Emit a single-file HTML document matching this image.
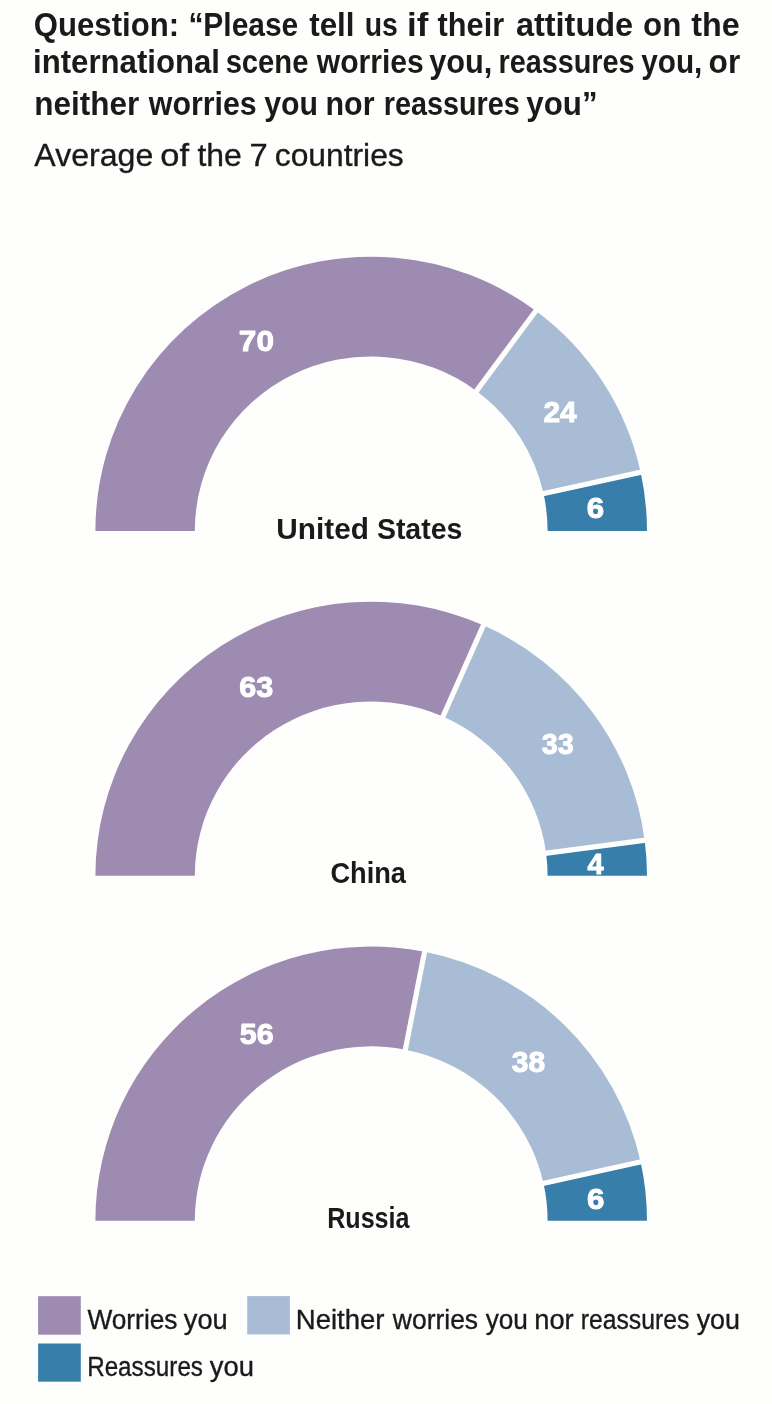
<!DOCTYPE html>
<html><head><meta charset="utf-8"><style>
html,body{margin:0;padding:0;}
body{width:772px;height:1404px;background:#fefefc;overflow:hidden;}
svg{display:block;font-family:"Liberation Sans",sans-serif;will-change:transform;}
</style></head><body>
<svg width="772" height="1404" viewBox="0 0 772 1404">
<path d="M95.40,530.90 A275.8,274.2 0 0 1 535.75,310.85 L476.45,390.94 A176.4,174.4 0 0 0 194.80,530.90 Z" fill="#9e8bb1"/>
<path d="M535.75,310.85 A275.8,274.2 0 0 1 640.62,472.25 L543.52,493.60 A176.4,174.4 0 0 0 476.45,390.94 Z" fill="#a8bcd6"/>
<path d="M640.62,472.25 A275.8,274.2 0 0 1 647.00,530.90 L547.60,530.90 A176.4,174.4 0 0 0 543.52,493.60 Z" fill="#377eab"/>
<line x1="474.66" y1="393.35" x2="537.54" y2="308.45" stroke="#fefefc" stroke-width="5.2"/>
<line x1="540.59" y1="494.24" x2="643.55" y2="471.61" stroke="#fefefc" stroke-width="5.2"/>
<path d="M95.40,875.85 A275.8,274.2 0 0 1 483.38,625.36 L442.95,716.53 A176.4,174.4 0 0 0 194.80,875.85 Z" fill="#9e8bb1"/>
<path d="M483.38,625.36 A275.8,274.2 0 0 1 644.67,840.30 L546.11,853.24 A176.4,174.4 0 0 0 442.95,716.53 Z" fill="#a8bcd6"/>
<path d="M644.67,840.30 A275.8,274.2 0 0 1 647.00,875.85 L547.60,875.85 A176.4,174.4 0 0 0 546.11,853.24 Z" fill="#377eab"/>
<line x1="441.73" y1="719.27" x2="484.60" y2="622.62" stroke="#fefefc" stroke-width="5.2"/>
<line x1="543.14" y1="853.63" x2="647.65" y2="839.91" stroke="#fefefc" stroke-width="5.2"/>
<path d="M95.40,1220.75 A275.8,274.2 0 0 1 424.58,951.73 L405.34,1049.65 A176.4,174.4 0 0 0 194.80,1220.75 Z" fill="#9e8bb1"/>
<path d="M424.58,951.73 A275.8,274.2 0 0 1 640.57,1161.87 L543.48,1183.30 A176.4,174.4 0 0 0 405.34,1049.65 Z" fill="#a8bcd6"/>
<path d="M640.57,1161.87 A275.8,274.2 0 0 1 647.00,1220.75 L547.60,1220.75 A176.4,174.4 0 0 0 543.48,1183.30 Z" fill="#377eab"/>
<line x1="404.76" y1="1052.59" x2="425.16" y2="948.79" stroke="#fefefc" stroke-width="5.2"/>
<line x1="540.55" y1="1183.94" x2="643.50" y2="1161.23" stroke="#fefefc" stroke-width="5.2"/>
<rect x="38.1" y="1296.2" width="42.7" height="38.5" fill="#9e8bb1"/>
<rect x="247.2" y="1296.1" width="42.7" height="38.3" fill="#a8bcd6"/>
<rect x="38.1" y="1343.5" width="42.7" height="38.2" fill="#377eab"/>
<text x="33.78" y="36.00" font-size="33" font-weight="bold" fill="#1a1a1a" textLength="145.34" lengthAdjust="spacingAndGlyphs">Question:</text>
<text x="188.38" y="36.00" font-size="33" font-weight="bold" fill="#1a1a1a" textLength="109.88" lengthAdjust="spacingAndGlyphs">“Please</text>
<text x="309.19" y="36.00" font-size="33" font-weight="bold" fill="#1a1a1a" textLength="45.34" lengthAdjust="spacingAndGlyphs">tell</text>
<text x="364.69" y="36.00" font-size="33" font-weight="bold" fill="#1a1a1a" textLength="33.17" lengthAdjust="spacingAndGlyphs">us</text>
<text x="406.96" y="36.00" font-size="33" font-weight="bold" fill="#1a1a1a" textLength="21.36" lengthAdjust="spacingAndGlyphs">if</text>
<text x="437.62" y="36.00" font-size="33" font-weight="bold" fill="#1a1a1a" textLength="66.51" lengthAdjust="spacingAndGlyphs">their</text>
<text x="515.89" y="36.00" font-size="33" font-weight="bold" fill="#1a1a1a" textLength="117.26" lengthAdjust="spacingAndGlyphs">attitude</text>
<text x="643.09" y="36.00" font-size="33" font-weight="bold" fill="#1a1a1a" textLength="38.27" lengthAdjust="spacingAndGlyphs">on</text>
<text x="691.26" y="36.00" font-size="33" font-weight="bold" fill="#1a1a1a" textLength="48.47" lengthAdjust="spacingAndGlyphs">the</text>
<text x="33.06" y="73.10" font-size="33" font-weight="bold" fill="#1a1a1a" textLength="186.97" lengthAdjust="spacingAndGlyphs">international</text>
<text x="225.64" y="73.10" font-size="33" font-weight="bold" fill="#1a1a1a" textLength="82.77" lengthAdjust="spacingAndGlyphs">scene</text>
<text x="316.81" y="73.10" font-size="33" font-weight="bold" fill="#1a1a1a" textLength="107.00" lengthAdjust="spacingAndGlyphs">worries</text>
<text x="429.14" y="73.10" font-size="33" font-weight="bold" fill="#1a1a1a" textLength="63.20" lengthAdjust="spacingAndGlyphs">you,</text>
<text x="498.47" y="73.10" font-size="33" font-weight="bold" fill="#1a1a1a" textLength="136.17" lengthAdjust="spacingAndGlyphs">reassures</text>
<text x="641.23" y="73.10" font-size="33" font-weight="bold" fill="#1a1a1a" textLength="61.17" lengthAdjust="spacingAndGlyphs">you,</text>
<text x="708.61" y="73.10" font-size="33" font-weight="bold" fill="#1a1a1a" textLength="31.62" lengthAdjust="spacingAndGlyphs">or</text>
<text x="34.22" y="114.80" font-size="33" font-weight="bold" fill="#1a1a1a" textLength="105.03" lengthAdjust="spacingAndGlyphs">neither</text>
<text x="148.84" y="114.80" font-size="33" font-weight="bold" fill="#1a1a1a" textLength="107.92" lengthAdjust="spacingAndGlyphs">worries</text>
<text x="264.16" y="114.80" font-size="33" font-weight="bold" fill="#1a1a1a" textLength="53.79" lengthAdjust="spacingAndGlyphs">you</text>
<text x="325.50" y="114.80" font-size="33" font-weight="bold" fill="#1a1a1a" textLength="49.03" lengthAdjust="spacingAndGlyphs">nor</text>
<text x="383.72" y="114.80" font-size="33" font-weight="bold" fill="#1a1a1a" textLength="135.99" lengthAdjust="spacingAndGlyphs">reassures</text>
<text x="526.32" y="114.80" font-size="33" font-weight="bold" fill="#1a1a1a" textLength="71.26" lengthAdjust="spacingAndGlyphs">you”</text>
<text x="34.38" y="165.60" font-size="32" font-weight="normal" fill="#1a1a1a" stroke="#1a1a1a" stroke-width="0.35" stroke-linejoin="round" textLength="118.84" lengthAdjust="spacingAndGlyphs">Average</text>
<text x="160.39" y="165.60" font-size="32" font-weight="normal" fill="#1a1a1a" stroke="#1a1a1a" stroke-width="0.35" stroke-linejoin="round" textLength="28.76" lengthAdjust="spacingAndGlyphs">of</text>
<text x="197.51" y="165.60" font-size="32" font-weight="normal" fill="#1a1a1a" stroke="#1a1a1a" stroke-width="0.35" stroke-linejoin="round" textLength="44.37" lengthAdjust="spacingAndGlyphs">the</text>
<text x="249.55" y="165.60" font-size="32" font-weight="normal" fill="#1a1a1a" stroke="#1a1a1a" stroke-width="0.35" stroke-linejoin="round" textLength="18.19" lengthAdjust="spacingAndGlyphs">7</text>
<text x="274.79" y="165.60" font-size="32" font-weight="normal" fill="#1a1a1a" stroke="#1a1a1a" stroke-width="0.35" stroke-linejoin="round" textLength="128.95" lengthAdjust="spacingAndGlyphs">countries</text>
<text x="276.29" y="538.90" font-size="29" font-weight="bold" fill="#1a1a1a" textLength="92.59" lengthAdjust="spacingAndGlyphs">United</text>
<text x="376.89" y="538.90" font-size="29" font-weight="bold" fill="#1a1a1a" textLength="85.53" lengthAdjust="spacingAndGlyphs">States</text>
<text x="330.40" y="883.40" font-size="29" font-weight="bold" fill="#1a1a1a" textLength="75.61" lengthAdjust="spacingAndGlyphs">China</text>
<text x="327.13" y="1227.60" font-size="29" font-weight="bold" fill="#1a1a1a" textLength="82.42" lengthAdjust="spacingAndGlyphs">Russia</text>
<text x="87.38" y="1328.80" font-size="27" font-weight="normal" fill="#1a1a1a" stroke="#1a1a1a" stroke-width="0.35" stroke-linejoin="round" textLength="90.14" lengthAdjust="spacingAndGlyphs">Worries</text>
<text x="183.84" y="1328.80" font-size="27" font-weight="normal" fill="#1a1a1a" stroke="#1a1a1a" stroke-width="0.35" stroke-linejoin="round" textLength="43.89" lengthAdjust="spacingAndGlyphs">you</text>
<text x="295.78" y="1328.60" font-size="27" font-weight="normal" fill="#1a1a1a" stroke="#1a1a1a" stroke-width="0.35" stroke-linejoin="round" textLength="88.74" lengthAdjust="spacingAndGlyphs">Neither</text>
<text x="392.82" y="1328.60" font-size="27" font-weight="normal" fill="#1a1a1a" stroke="#1a1a1a" stroke-width="0.35" stroke-linejoin="round" textLength="85.28" lengthAdjust="spacingAndGlyphs">worries</text>
<text x="485.64" y="1328.60" font-size="27" font-weight="normal" fill="#1a1a1a" stroke="#1a1a1a" stroke-width="0.35" stroke-linejoin="round" textLength="42.28" lengthAdjust="spacingAndGlyphs">you</text>
<text x="534.23" y="1328.60" font-size="27" font-weight="normal" fill="#1a1a1a" stroke="#1a1a1a" stroke-width="0.35" stroke-linejoin="round" textLength="39.45" lengthAdjust="spacingAndGlyphs">nor</text>
<text x="580.65" y="1328.60" font-size="27" font-weight="normal" fill="#1a1a1a" stroke="#1a1a1a" stroke-width="0.35" stroke-linejoin="round" textLength="108.61" lengthAdjust="spacingAndGlyphs">reassures</text>
<text x="696.65" y="1328.60" font-size="27" font-weight="normal" fill="#1a1a1a" stroke="#1a1a1a" stroke-width="0.35" stroke-linejoin="round" textLength="43.37" lengthAdjust="spacingAndGlyphs">you</text>
<text x="87.15" y="1376.00" font-size="27" font-weight="normal" fill="#1a1a1a" stroke="#1a1a1a" stroke-width="0.35" stroke-linejoin="round" textLength="115.84" lengthAdjust="spacingAndGlyphs">Reassures</text>
<text x="209.76" y="1376.00" font-size="27" font-weight="normal" fill="#1a1a1a" stroke="#1a1a1a" stroke-width="0.35" stroke-linejoin="round" textLength="44.18" lengthAdjust="spacingAndGlyphs">you</text>
<text x="238.87" y="351.04" font-size="30" font-weight="bold" fill="#ffffff" stroke="#fff" stroke-width="1.0" stroke-linejoin="round" textLength="35.07" lengthAdjust="spacingAndGlyphs">70</text>
<text x="543.44" y="421.84" font-size="30" font-weight="bold" fill="#ffffff" stroke="#fff" stroke-width="1.0" stroke-linejoin="round" textLength="33.32" lengthAdjust="spacingAndGlyphs">24</text>
<text x="586.83" y="517.95" font-size="30" font-weight="bold" fill="#ffffff" stroke="#fff" stroke-width="1.0" stroke-linejoin="round" textLength="17.39" lengthAdjust="spacingAndGlyphs">6</text>
<text x="239.33" y="696.97" font-size="30" font-weight="bold" fill="#ffffff" stroke="#fff" stroke-width="1.0" stroke-linejoin="round" textLength="34.03" lengthAdjust="spacingAndGlyphs">63</text>
<text x="541.86" y="754.21" font-size="30" font-weight="bold" fill="#ffffff" stroke="#fff" stroke-width="1.0" stroke-linejoin="round" textLength="31.91" lengthAdjust="spacingAndGlyphs">33</text>
<text x="587.62" y="873.60" font-size="30" font-weight="bold" fill="#ffffff" stroke="#fff" stroke-width="1.0" stroke-linejoin="round" textLength="16.04" lengthAdjust="spacingAndGlyphs">4</text>
<text x="239.80" y="1044.21" font-size="30" font-weight="bold" fill="#ffffff" stroke="#fff" stroke-width="1.0" stroke-linejoin="round" textLength="33.86" lengthAdjust="spacingAndGlyphs">56</text>
<text x="511.76" y="1071.97" font-size="30" font-weight="bold" fill="#ffffff" stroke="#fff" stroke-width="1.0" stroke-linejoin="round" textLength="33.40" lengthAdjust="spacingAndGlyphs">38</text>
<text x="587.02" y="1208.95" font-size="30" font-weight="bold" fill="#ffffff" stroke="#fff" stroke-width="1.0" stroke-linejoin="round" textLength="17.43" lengthAdjust="spacingAndGlyphs">6</text>
</svg>
</body></html>
